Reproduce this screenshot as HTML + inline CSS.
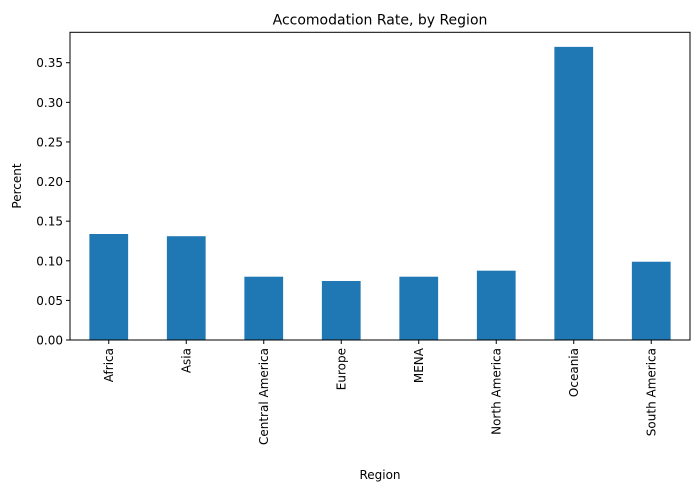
<!DOCTYPE html>
<html><head><meta charset="utf-8"><style>
body{margin:0;background:#fff;}
svg{display:block;font-family:"DejaVu Sans","Liberation Sans",sans-serif;}
</style></head><body>
<svg id="chart" width="700" height="492" viewBox="0 0 700 492"></svg>
<script>
const categories=["Africa","Asia","Central America","Europe","MENA","North America","Oceania","South America"];
const values=[0.1338,0.131,0.0799,0.0745,0.0799,0.0875,0.370,0.0988];
const yTicks=[0,0.05,0.10,0.15,0.20,0.25,0.30,0.35];
const yTickLabels=["0.00","0.05","0.10","0.15","0.20","0.25","0.30","0.35"];
const L=70,R=690,T=32.3,B=340,yMax=0.3884;
const svg=document.getElementById('chart');
const NS='http://www.w3.org/2000/svg';
function y(v){return B-(v/yMax)*(B-T);}
const step=(R-L)/categories.length;
function xc(i){return L+step*(i+0.5);}
function mk(tag,attrs,text){const e=document.createElementNS(NS,tag);for(const k in attrs)e.setAttribute(k,attrs[k]);if(text!==undefined)e.textContent=text;svg.appendChild(e);return e;}
categories.forEach((c,i)=>{
  const b=mk('rect',{x:xc(i)-step/4,y:y(values[i]),width:step/2,height:B-y(values[i]),fill:'#1f77b4'});
  
  
  const t=mk('line',{x1:xc(i),x2:xc(i),y1:B,y2:B+4,stroke:'#000','stroke-width':1});
  
  
  const lx=xc(i)+4,ly=B+8;
  const l=mk('text',{x:lx,y:ly,'font-size':12,'text-anchor':'end',transform:`rotate(-90 ${lx} ${ly})`},c);
  
  
});
yTicks.forEach((v,i)=>{
  const t=mk('line',{x1:L-4,x2:L,y1:y(v),y2:y(v),stroke:'#000','stroke-width':1});
  
  
  const l=mk('text',{x:L-7,y:y(v)+4.5,'font-size':12,'text-anchor':'end'},yTickLabels[i]);
  
  
});
const f=mk('rect',{x:L,y:T,width:R-L,height:B-T,fill:'none',stroke:'#000','stroke-width':1});


const ti=mk('text',{x:(L+R)/2,y:T-8,'font-size':14,'text-anchor':'middle'},'Accomodation Rate, by Region');


const xt=mk('text',{x:(L+R)/2,y:479,'font-size':12,'text-anchor':'middle'},'Region');


const yt=mk('text',{x:21,y:186,'font-size':12,'text-anchor':'middle',transform:'rotate(-90 21 186)'},'Percent');


</script>
</body></html>
